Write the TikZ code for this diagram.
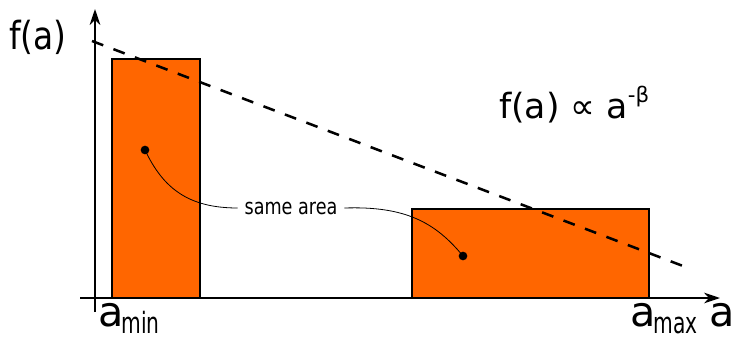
\documentclass[tikz,border=0pt]{standalone}
\usepackage{fontspec}
\setmainfont{DejaVu Sans}
\usetikzlibrary{arrows.meta}
\definecolor{orng}{HTML}{FF6600}
\begin{document}
\begin{tikzpicture}[x=0.75pt,y=-0.75pt,
  axis/.style={line width=1.5pt,-{Stealth[length=12pt,width=8pt]}},
  bar/.style={draw=black,fill=orng,line width=1.5pt},
  trend/.style={line width=1.9pt,dash pattern=on 9pt off 8.2pt},
  lead/.style={line width=0.6pt},
  dotn/.style={circle,fill=black,inner sep=0pt,minimum size=6.5pt},
  txt/.style={inner sep=0pt}]
\useasboundingbox (0,0) rectangle (739,339);
% bars
\path[bar] (112,59) rectangle (200,298);
\path[bar] (412,209) rectangle (649,298);
% axes
\coordinate (yb) at (95,312);
\coordinate (yt) at (95,9);
\coordinate (xl) at (80,298);
\coordinate (xr) at (720,298);
\draw[axis] (yb) -- (yt);
\draw[axis] (xl) -- (xr);
% dashed trend
\coordinate (d1) at (92,41);
\coordinate (d2) at (683,266);
\draw[trend] (d1) -- (d2);
% labels
\node[txt,anchor=base west] (fa) at (9,49) {\scalebox{0.85}[1]{\fontsize{29}{29}\selectfont f(a)}};
\node[txt,anchor=base west] (law) at (499,118) {\fontsize{26}{26}\selectfont f(a) ∝ a\raisebox{12pt}{\fontsize{16}{16}\selectfont -β}};
\node[txt,anchor=base west] (amin) at (98,326) {\fontsize{31}{31}\selectfont a\kern-1.5pt\raisebox{-5.5pt}{\scalebox{0.69}[1]{\fontsize{22}{22}\selectfont min}}};
\node[txt,anchor=base west] (amax) at (630,326) {\fontsize{31}{31}\selectfont a\kern-1.5pt\raisebox{-5.5pt}{\scalebox{0.69}[1]{\fontsize{22}{22}\selectfont max}}};
\node[txt,anchor=base west] (ax) at (709,326) {\fontsize{31}{31}\selectfont a};
\node[txt,anchor=base] (same) at (291,214) {\scalebox{0.8}[1]{\fontsize{16.5}{16.5}\selectfont same area}};
% dots and leaders
\node[dotn] (p1) at (145,150) {};
\node[dotn] (p2) at (463,256) {};
\draw[lead] (p1.center) .. controls (163,188) and (188,208) .. ([xshift=-5pt]same.west|-0,208);
\draw[lead] ([xshift=5pt]same.east|-0,208) .. controls (405,206) and (435,222) .. (p2.center);
\end{tikzpicture}
\end{document}
